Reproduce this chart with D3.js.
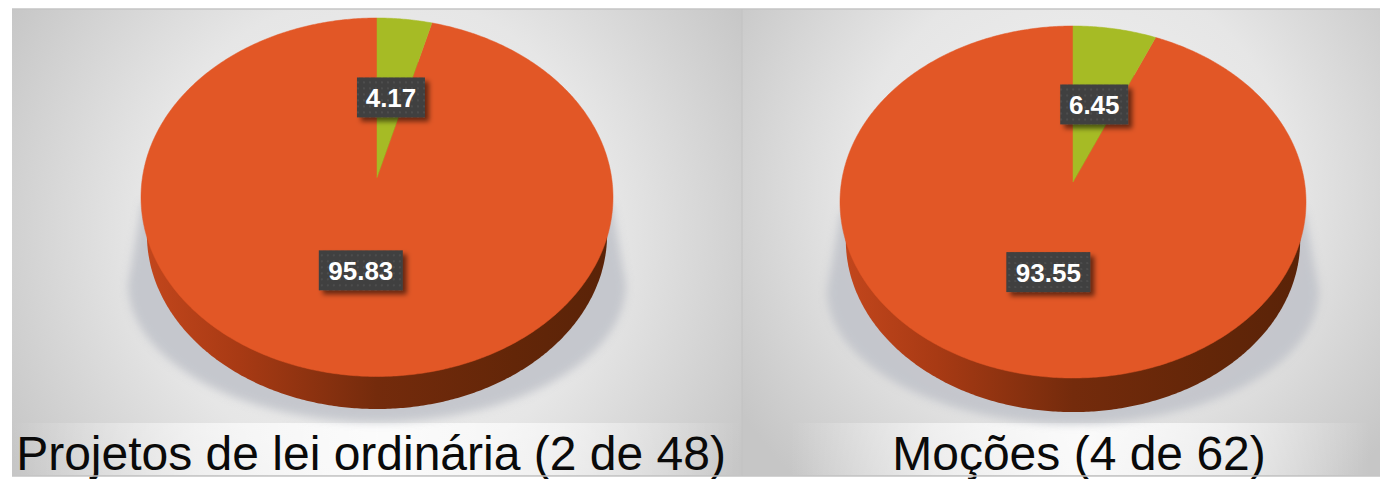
<!DOCTYPE html>
<html><head><meta charset="utf-8">
<style>html,body{margin:0;padding:0;background:#fff}svg{display:block}text{font-family:"Liberation Sans",Arial,sans-serif}</style>
<script src="https://cdn.jsdelivr.net/npm/d3@7"></script></head>
<body><svg id="c" width="1380" height="479"></svg>
<script>
const titles = ["Projetos de lei ordinária (2 de 48)", "Moções (4 de 62)"];
const greenShare = [4.17, 6.45];
const orangeShare = [95.83, 93.55];
const sliceColors = ["#a6bb25", "#e25726"];
const labelReach = [0.48, 0.5];

// Layout of the two panels, kept apart from the values
const layout = [
  {x0:12, x1:742, cx:377, top:18, apex:177.5, bottom:376.5, rx:236, depth:37.5, shadowY:284, shadowRy:138, titleX:371, stripX0:12, stripX1:742},
  {x0:742, x1:1380, cx:1073, top:26, apex:182, bottom:378, rx:233, depth:39, shadowY:290, shadowRy:134, titleX:1079, stripX0:790, stripX1:1370}
];

const svg = d3.select("#c");
const defs = svg.append("defs");

const sideGrad = defs.append("linearGradient").attr("id","side");
[[0,"#c2461c"],[0.2,"#a83a14"],[0.5,"#742b0c"],[0.8,"#632608"],[1,"#5a2308"]]
  .forEach(s=>sideGrad.append("stop").attr("offset",s[0]).attr("stop-color",s[1]));
const strip = defs.append("linearGradient").attr("id","strip");
[[0,0],[0.25,0.55],[0.5,0.85],[0.75,0.55],[1,0]]
  .forEach(s=>strip.append("stop").attr("offset",s[0]).attr("stop-color","#fff").attr("stop-opacity",s[1]));
defs.append("filter").attr("id","blur").attr("x","-20%").attr("y","-20%").attr("width","140%").attr("height","140%")
  .append("feGaussianBlur").attr("stdDeviation",4.5);
const lf = defs.append("filter").attr("id","lab").attr("x","-20%").attr("y","-20%").attr("width","150%").attr("height","160%");
lf.append("feDropShadow").attr("dx",4).attr("dy",4).attr("stdDeviation",2.5).attr("flood-color","#000").attr("flood-opacity",0.55);
const pat = defs.append("pattern").attr("id","dots").attr("width",6).attr("height",6).attr("patternUnits","userSpaceOnUse");
pat.append("rect").attr("width",6).attr("height",6).attr("fill","#3f3f3f");
pat.append("circle").attr("cx",3).attr("cy",3).attr("r",0.9).attr("fill","#555");

layout.forEach((p,i)=>{
  const g = defs.append("radialGradient").attr("id","bg"+i)
    .attr("gradientUnits","userSpaceOnUse")
    .attr("cx",p.cx).attr("cy",i?190:230).attr("r",i?400:430);
  [[0,"#f2f2f2"],[0.55,"#e6e6e6"],[1,"#c6c6c6"]]
    .forEach(s=>g.append("stop").attr("offset",s[0]).attr("stop-color",s[1]));
});

const pie = d3.pie().sort(null).value(d=>d);
const line = d3.line().x(d=>d[0]).y(d=>d[1]).curve(d3.curveLinear);

layout.forEach((p,i)=>{
  const g = svg.append("g");
  g.append("rect").attr("x",p.x0).attr("y",9).attr("width",p.x1-p.x0).attr("height",467).attr("fill",`url(#bg${i})`);
  g.append("rect").attr("x",p.stripX0).attr("y",423).attr("width",p.stripX1-p.stripX0).attr("height",52).attr("fill","url(#strip)");

  // perspective view of a round disc: the pie's centre sits above the ellipse's centre
  const upper = p.apex-p.top, lower = p.bottom-p.apex;
  const ratio = lower/upper, k = (ratio-1)/(ratio+1), s = upper*(1+k);
  const rxn = p.rx*Math.sqrt(1-k*k);
  const project = (a,r,dy=0,sc=1)=>{
    const u=r*Math.sin(a), v=r*Math.cos(a), w=1+k*v;
    return [p.cx+sc*rxn*u/w, p.apex+dy-sc*s*v/w];
  };
  const ring = (dy,sc)=>line(d3.range(0,2*Math.PI,0.01).map(a=>project(a,1,dy,sc)))+"Z";

  // cast shadow: tapered sides running into a soft half ellipse
  const srx = p.rx+13;
  const shadowPts = [[p.cx+p.rx-1,p.top+185]]
    .concat(d3.range(Math.PI/2,3*Math.PI/2,0.02).map(a=>[p.cx+srx*Math.sin(a),p.shadowY-p.shadowRy*Math.cos(a)]))
    .concat([[p.cx-srx,p.shadowY],[p.cx-p.rx+1,p.top+185]]);
  g.append("path").attr("filter","url(#blur)").attr("fill","#c0c2c9").attr("opacity",0.85)
    .attr("d",line(shadowPts)+"Z");

  // wall
  g.append("path").attr("fill","url(#side)").attr("d",ring(p.depth,0.975));
  g.append("rect").attr("x",p.cx-p.rx*0.975).attr("y",p.top+(upper+lower)/2).attr("width",2*p.rx*0.975).attr("height",p.depth).attr("fill","url(#side)");

  const slices = pie([greenShare[i],orangeShare[i]]);
  g.selectAll("path.slice").data(slices).join("path").attr("class","slice")
    .attr("fill",(d,j)=>sliceColors[j]).attr("stroke",(d,j)=>sliceColors[j]).attr("stroke-width",0.5)
    .attr("d",d=>{
      const n=Math.ceil((d.endAngle-d.startAngle)/0.01);
      const pts=d3.range(n+1).map(t=>project(d.startAngle+(d.endAngle-d.startAngle)*t/n,1));
      return line([[p.cx,p.apex],...pts])+"Z";
    });
  g.selectAll("path.slice").filter((d,j)=>j===0).raise();

  // value labels
  const labelsG = g.selectAll("g.lab").data(slices).join("g").attr("class","lab")
    .attr("transform",(d,j)=>{
      const [x,y]=project((d.startAngle+d.endAngle)/2,labelReach[j]);
      return `translate(${x},${y})`;
    });
  labelsG.append("rect").attr("filter","url(#lab)").attr("fill","url(#dots)")
    .attr("x",(d,j)=>j?-42:-34).attr("y",-20).attr("width",(d,j)=>j?84:68).attr("height",40);
  labelsG.append("text").attr("text-anchor","middle").attr("y",9.5).attr("fill","#fff")
    .attr("font-size",26).attr("font-weight","bold").text(d=>d.value.toFixed(2));

  g.append("text").attr("x",p.titleX).attr("y",470).attr("text-anchor","middle")
    .attr("font-size",48).attr("fill","#0a0a0a").text(titles[i]);
});

// panel frame
svg.append("line").attr("x1",12).attr("x2",1380).attr("y1",9).attr("y2",9).attr("stroke","#c4c4c4").attr("stroke-width",1.5);
svg.append("line").attr("x1",12).attr("x2",1380).attr("y1",476).attr("y2",476).attr("stroke","#c4c4c4").attr("stroke-width",1.5);
svg.append("line").attr("x1",742).attr("x2",742).attr("y1",9).attr("y2",476).attr("stroke","#c2c2c2").attr("stroke-width",1);
</script></body></html>
